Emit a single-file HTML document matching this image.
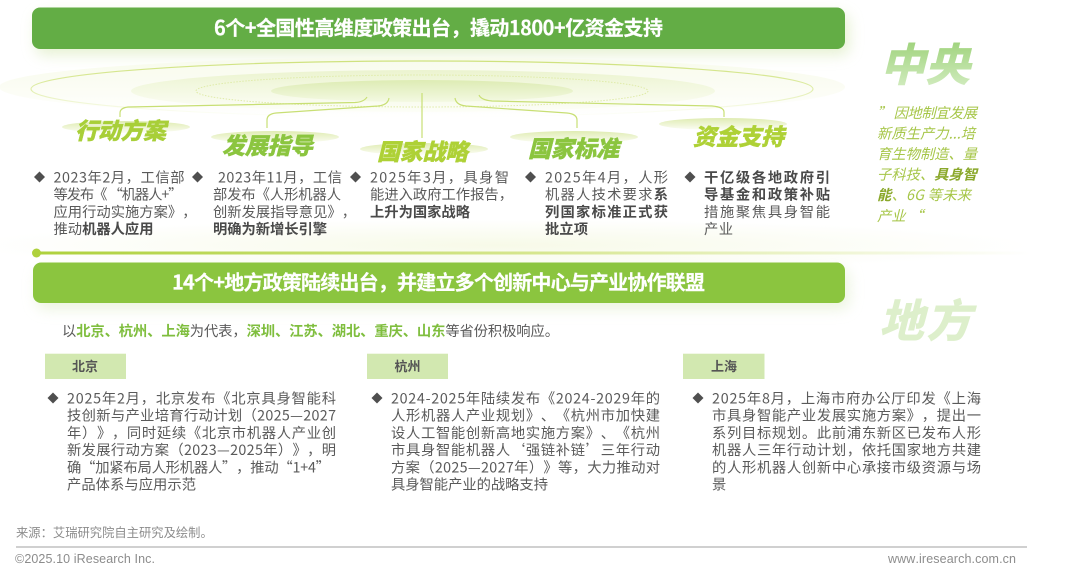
<!DOCTYPE html>
<html><head><meta charset="utf-8">
<style>
html,body{margin:0;padding:0;background:#fff;width:1080px;height:571px;overflow:hidden}
svg{display:block;filter:blur(.3px)}
text{font-family:"Noto Sans CJK SC","Liberation Sans",sans-serif;font-kerning:none;font-feature-settings:"chws" 0,"palt" 0,"halt" 0;text-spacing-trim:space-all}
.t{font-size:14.3px;fill:#5a5a5a}
.b{font-weight:700;fill:#4a4a4a}
.lab{font-size:23px;font-weight:900;font-style:italic;stroke-width:.35px}
.big{font-size:45px;font-weight:900;font-style:italic}
.q{font-size:14.3px;font-style:italic;fill:#a6c648}
.qb{font-weight:700;fill:#8aa82b}
.g{font-weight:700;fill:#7fbe3e}
.tab{font-size:13px;font-weight:700;fill:#555;text-anchor:middle}
.bar{font-size:20px;font-weight:700;fill:#fff;stroke:#fff;stroke-width:.2px}
.f{font-family:"Liberation Sans",Arial,sans-serif;font-size:12.5px;fill:#8c8c8c}
</style></head><body>
<svg width="1080" height="571" viewBox="0 0 1080 571" xmlns="http://www.w3.org/2000/svg">
<defs>
<filter id="sh" x="-5%" y="-40%" width="110%" height="200%"><feGaussianBlur stdDeviation="7"/></filter>
<linearGradient id="outer" x1="0" y1="0" x2="0" y2="1"><stop offset="0" stop-color="#f8fbec"/><stop offset=".6" stop-color="#fcfdf6"/><stop offset="1" stop-color="#fff"/></linearGradient>
<linearGradient id="mid" x1="0" y1="0" x2="0" y2="1"><stop offset="0" stop-color="#ecf4d0"/><stop offset="1" stop-color="#fdfef8"/></linearGradient>
<linearGradient id="inner" x1="0" y1="0" x2="0" y2="1"><stop offset="0" stop-color="#deecb4"/><stop offset="1" stop-color="#f4f9e2"/></linearGradient>
<linearGradient id="ring" x1="0" y1="0" x2="0" y2="1"><stop offset="0" stop-color="#cfe27e"/><stop offset=".5" stop-color="#e0edaa"/><stop offset=".9" stop-color="#fbfdf2"/><stop offset="1" stop-color="#fff"/></linearGradient>
<linearGradient id="labE" x1="0" y1="0" x2="0" y2="1"><stop offset="0" stop-color="#dfecb2"/><stop offset="1" stop-color="#fcfdf5"/></linearGradient>
<linearGradient id="line" x1="0" y1="0" x2="1" y2="0"><stop offset="0" stop-color="#aed13c"/><stop offset=".5" stop-color="#d6e68e"/><stop offset="1" stop-color="#fff"/></linearGradient>
<linearGradient id="zy" x1="0" y1="0" x2="0" y2="1"><stop offset="0" stop-color="#93cd6c"/><stop offset="1" stop-color="#d8efc8"/></linearGradient>
<radialGradient id="glow"><stop offset="0" stop-color="#f7fae8"/><stop offset="1" stop-color="#fff"/></radialGradient>
</defs>

<ellipse cx="500" cy="245" rx="530" ry="26" fill="url(#glow)"/>

<!-- top bar -->
<rect x="36" y="14" width="813" height="41" rx="8" fill="#dcebc0" opacity=".7" filter="url(#sh)"/>
<rect x="32" y="7.5" width="813" height="41.5" rx="8" fill="#63ad45"/>
<text class="bar" x="214" y="35" textLength="449">6个+全国性高维度政策出台，撬动1800+亿资金支持</text>

<!-- ripple ellipses -->
<ellipse cx="422" cy="87" rx="423" ry="30" fill="url(#outer)"/>
<ellipse cx="422" cy="89" rx="391" ry="28" fill="none" stroke="url(#ring)" stroke-width="1.2"/>
<ellipse cx="423" cy="91" rx="292" ry="21" fill="url(#mid)"/>
<ellipse cx="422" cy="91" rx="226" ry="16" fill="none" stroke="#dfeba8" stroke-width="1" stroke-dasharray="1.5 1.5"/>
<ellipse cx="422" cy="91" rx="151" ry="11" fill="url(#inner)"/>

<!-- connectors -->
<g fill="none" stroke="#c8df74" stroke-width="1.2">
<path d="M367 97Q364 102 355 102.5L128 107Q120 108 120 113V117"/>
<path d="M389 98Q388 105 378 106L276 113Q267 114 267 120V128"/>
<path d="M422 93V138"/>
<path d="M455 98Q456 105 466 106L567 113Q577 114 577 120V128"/>
<path d="M479 95Q481 100 492 101L712 106Q724 107 724 112V117"/>
</g>

<!-- label ellipses -->
<ellipse cx="126" cy="127" rx="64" ry="6" fill="url(#labE)"/>
<ellipse cx="275" cy="137" rx="64" ry="6" fill="url(#labE)"/>
<ellipse cx="424" cy="149" rx="64" ry="6" fill="url(#labE)"/>
<ellipse cx="574" cy="137" rx="64" ry="6" fill="url(#labE)"/>
<ellipse cx="723" cy="124" rx="64" ry="6" fill="url(#labE)"/>

<text class="lab" x="75" y="139" textLength="91" fill="#a8cf38" stroke="#a8cf38">行动方案</text>
<text class="lab" x="222" y="154" textLength="91" fill="#8bc53f" stroke="#8bc53f">发展指导</text>
<text class="lab" x="377" y="160" textLength="91" fill="#aed136" stroke="#aed136">国家战略</text>
<text class="lab" x="528" y="157" textLength="91" fill="#8bc53f" stroke="#8bc53f">国家标准</text>
<text class="lab" x="693" y="145" textLength="91" fill="#aed136" stroke="#aed136">资金支持</text>

<!-- bullets -->
<g fill="#4f4f4f">
<polygon points="39.5,171.5 45,177 39.5,182.5 34,177"/>
<polygon points="197.5,171.5 203,177 197.5,182.5 192,177"/>
<polygon points="355.5,171.5 361,177 355.5,182.5 350,177"/>
<polygon points="530.5,171.5 536,177 530.5,182.5 525,177"/>
<polygon points="690,171.5 695.5,177 690,182.5 684.5,177"/>
<polygon points="53,392.5 58.5,398 53,403.5 47.5,398"/>
<polygon points="377,392.5 382.5,398 377,403.5 371.5,398"/>
<polygon points="698,392.5 703.5,398 698,403.5 692.5,398"/>
</g>

<!-- column 1 -->
<text class="t" x="53.5" y="182.5" textLength="131">2023年2月，工信部</text>
<text class="t" x="53.5" y="199.7" textLength="129">等发布《 “机器人+”</text>
<text class="t" x="53.5" y="217" textLength="143">应用行动实施方案》，</text>
<text class="t" x="53.5" y="234.2" textLength="100">推动<tspan class="b">机器人应用</tspan></text>
<!-- column 2 -->
<text class="t" x="218" y="182.5" textLength="124">2023年11月，工信</text>
<text class="t" x="213" y="199.7" textLength="128">部发布《人形机器人</text>
<text class="t" x="213" y="217" textLength="143">创新发展指导意见》，</text>
<text class="t" x="213" y="234.2" textLength="114"><tspan class="b">明确为新增长引擎</tspan></text>
<!-- column 3 -->
<text class="t" x="370" y="182.5" textLength="139">2025年3月，具身智</text>
<text class="t" x="370" y="199.7" textLength="143">能进入政府工作报告，</text>
<text class="t" x="370" y="217" textLength="100"><tspan class="b">上升为国家战略</tspan></text>
<!-- column 4 -->
<text class="t" x="545" y="182.5" textLength="123">2025年4月，人形</text>
<text class="t" x="545" y="199.7" textLength="123">机器人技术要求<tspan class="b">系</tspan></text>
<text class="t" x="545" y="217" textLength="123"><tspan class="b">列国家标准正式获</tspan></text>
<text class="t" x="545" y="234.2" textLength="43"><tspan class="b">批立项</tspan></text>
<!-- column 5 -->
<text class="t" x="704" y="182.5" textLength="126"><tspan class="b">干亿级各地政府引</tspan></text>
<text class="t" x="704" y="199.7" textLength="126"><tspan class="b">导基金和政策补贴</tspan></text>
<text class="t" x="704" y="217" textLength="126">措施聚焦具身智能</text>
<text class="t" x="704" y="234.2" textLength="29">产业</text>

<!-- divider -->
<rect x="36" y="251.5" width="994" height="3" fill="url(#line)"/>
<circle cx="36.5" cy="253" r="4.5" fill="#aed13c"/>

<!-- second bar -->
<rect x="37" y="269" width="812" height="40" rx="8" fill="#e3efd0" opacity=".7" filter="url(#sh)"/>
<rect x="33" y="262.5" width="812" height="40.5" rx="8" fill="#8bc53f"/>
<text class="bar" x="172" y="289.5" textLength="533">14个+地方政策陆续出台，并建立多个创新中心与产业协作联盟</text>

<!-- right labels -->
<text class="big" x="880" y="81" textLength="90" fill="url(#zy)">中央</text>
<text class="q" x="877" y="118" textLength="100">” 因地制宜发展</text>
<text class="q" x="877" y="138.5" textLength="98">新质生产力...培</text>
<text class="q" x="877" y="159" textLength="100">育生物制造、量</text>
<text class="q" x="877" y="179.7" textLength="100">子科技、<tspan class="qb">具身智</tspan></text>
<text class="q" x="877" y="200" textLength="94"><tspan class="qb">能</tspan>、6G 等未来</text>
<text class="q" x="877" y="221" textLength="46">产业 “</text>
<text class="big" x="879" y="337" textLength="92" fill="#ddefcb">地方</text>

<!-- intro -->
<text class="t" x="62" y="336" textLength="497">以<tspan class="g">北京、杭州、上海</tspan>为代表，<tspan class="g">深圳、江苏、湖北、重庆、山东</tspan>等省份积极响应。</text>

<!-- tabs -->
<rect x="45" y="353.7" width="81" height="25.3" fill="#d2e8b0"/>
<rect x="367" y="353.7" width="81" height="25.3" fill="#d2e8b0"/>
<rect x="683" y="353.7" width="81.5" height="25.3" fill="#d2e8b0"/>
<text class="tab" x="85" y="371">北京</text>
<text class="tab" x="407.5" y="371">杭州</text>
<text class="tab" x="724" y="371">上海</text>

<!-- Beijing -->
<text class="t" x="67" y="403.5" textLength="269">2025年2月，北京发布《北京具身智能科</text>
<text class="t" x="67" y="420.7" textLength="269">技创新与产业培育行动计划（2025—2027</text>
<text class="t" x="67" y="437.9" textLength="269">年）》，同时延续《北京市机器人产业创</text>
<text class="t" x="67" y="455.1" textLength="269">新发展行动方案（2023—2025年）》，明</text>
<text class="t" x="67" y="472.3" textLength="263">确“加紧布局人形机器人”，推动“1+4”</text>
<text class="t" x="67" y="489.5" textLength="129">产品体系与应用示范</text>
<!-- Hangzhou -->
<text class="t" x="391" y="403.5" textLength="269">2024-2025年陆续发布《2024-2029年的</text>
<text class="t" x="391" y="420.7" textLength="269">人形机器人产业规划》、《杭州市加快建</text>
<text class="t" x="391" y="437.9" textLength="269">设人工智能创新高地实施方案》、《杭州</text>
<text class="t" x="391" y="455.1" textLength="269">市具身智能机器人‘强链补链’三年行动</text>
<text class="t" x="391" y="472.3" textLength="269">方案（2025—2027年）》等，大力推动对</text>
<text class="t" x="391" y="489.5" textLength="157">具身智能产业的战略支持</text>
<!-- Shanghai -->
<text class="t" x="712" y="403.5" textLength="269">2025年8月，上海市府办公厅印发《上海</text>
<text class="t" x="712" y="420.7" textLength="269">市具身智能产业发展实施方案》，提出一</text>
<text class="t" x="712" y="437.9" textLength="269">系列目标规划。此前浦东新区已发布人形</text>
<text class="t" x="712" y="455.1" textLength="269">机器人三年行动计划，依托国家地方共建</text>
<text class="t" x="712" y="472.3" textLength="269">的人形机器人创新中心承接市级资源与场</text>
<text class="t" x="712" y="489.5">景</text>

<!-- footer -->
<text x="16" y="537" font-size="12.3" fill="#8c8c8c">来源：艾瑞研究院自主研究及绘制。</text>
<rect x="16" y="546.5" width="1011" height="1" fill="#a0a0a0"/>
<text class="f" x="15" y="563" textLength="140">©2025.10 iResearch Inc.</text>
<text class="f" x="888" y="563" textLength="128">www.iresearch.com.cn</text>
</svg>
</body></html>
